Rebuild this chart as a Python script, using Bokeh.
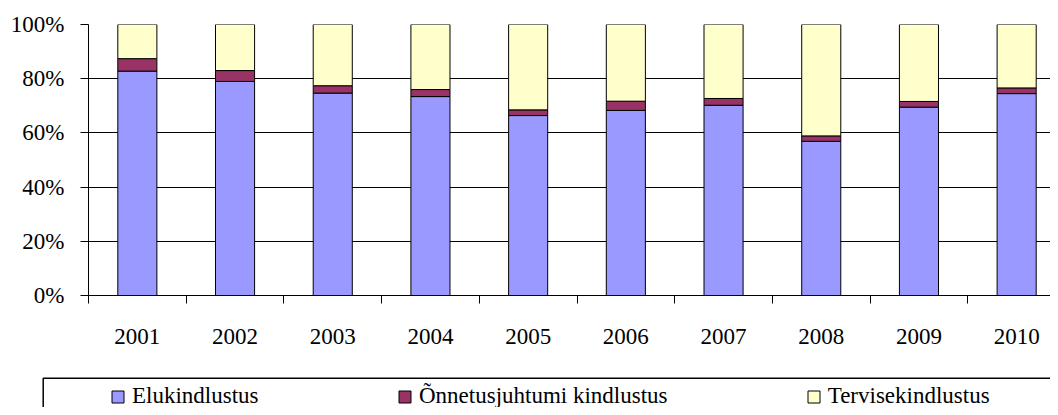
from bokeh.plotting import figure
from bokeh.layouts import column
from bokeh.models import (ColumnDataSource, Range1d, FixedTicker, Legend, LegendItem,
                          BoxAnnotation)
from bokeh.embed import file_html
from bokeh.resources import INLINE

years = ["2001", "2002", "2003", "2004", "2005", "2006", "2007", "2008", "2009", "2010"]
year_pos = [2001, 2002, 2003, 2004, 2005, 2006, 2007, 2008, 2009, 2010]
elukindlustus = [82.8, 79.0, 74.7, 73.4, 66.4, 68.3, 70.2, 56.9, 69.5, 74.5]
onnetus = [4.6, 4.0, 2.7, 2.6, 2.1, 3.4, 2.5, 2.0, 2.1, 2.1]
tervis = [12.6, 17.0, 22.6, 24.0, 31.5, 28.3, 27.3, 41.1, 28.4, 23.4]
series_names = ["Elukindlustus", "Õnnetusjuhtumi kindlustus", "Tervisekindlustus"]
series_cols = ["elu", "onn", "terv"]
colors = ["#9999FF", "#993366", "#FFFFCC"]
y_ticks = [0, 20, 40, 60, 80, 100]
y_tick_labels = ["0%", "20%", "40%", "60%", "80%", "100%"]

FONT = "Liberation Serif"
FS = "23px"
W = 1050

src = ColumnDataSource(dict(x=year_pos, elu=elukindlustus, onn=onnetus, terv=tervis))

p = figure(width=W, height=370, output_backend="svg", toolbar_location=None,
           x_range=Range1d(2000.5, 2000.5 + (W - 88) / 97.7), y_range=Range1d(0, 100),
           min_border_left=88, min_border_right=0, min_border_top=24, min_border_bottom=75)
p.outline_line_color = None
p.background_fill_color = "white"
p.border_fill_color = "white"

rs = p.vbar_stack(series_cols, x="x", width=0.4, source=src,
                  fill_color=colors, line_color="black", line_width=1)

# grid
p.xgrid.visible = False
p.ygrid.ticker = FixedTicker(ticks=y_ticks)
p.ygrid.grid_line_color = "black"
p.ygrid.grid_line_width = 1

# y axis
p.yaxis.ticker = FixedTicker(ticks=y_ticks)
p.yaxis.major_label_overrides = {t: l for t, l in zip(y_ticks, y_tick_labels)}
p.yaxis.major_tick_out = 8
p.yaxis.major_tick_in = 0
p.yaxis.minor_tick_out = 0
p.yaxis.minor_tick_in = 0
p.yaxis.major_label_standoff = 16
p.yaxis.axis_line_color = "black"
p.yaxis.major_tick_line_color = "black"
p.yaxis.major_label_text_font = FONT
p.yaxis.major_label_text_font_size = FS
p.yaxis.major_label_text_color = "black"

# x axis: labels at centers, tick marks at category boundaries
bounds = [y - 0.5 for y in year_pos] + [year_pos[-1] + 0.5]
p.xaxis.ticker = FixedTicker(ticks=year_pos, minor_ticks=bounds)
p.xaxis.major_label_overrides = {t: l for t, l in zip(year_pos, years)}
p.xaxis.major_tick_out = 0
p.xaxis.major_tick_in = 0
p.xaxis.minor_tick_out = 8
p.xaxis.minor_tick_in = 0
p.xaxis.minor_tick_line_color = "black"
p.xaxis.axis_line_color = "black"
p.xaxis.major_label_standoff = 25
p.xaxis.major_label_text_font = FONT
p.xaxis.major_label_text_font_size = FS
p.xaxis.major_label_text_color = "black"

# legend strip (separate figure, pixel-unit ranges)
LH = 37
p2 = figure(width=W, height=LH, output_backend="svg", toolbar_location=None,
            x_range=Range1d(0, W), y_range=Range1d(0, LH),
            x_axis_type=None, y_axis_type=None,
            min_border_left=0, min_border_right=0, min_border_top=0, min_border_bottom=0)
p2.outline_line_color = None
p2.xgrid.visible = False
p2.ygrid.visible = False
p2.background_fill_color = "white"
p2.border_fill_color = "white"
for fig in (p, p2):
    try:
        fig.frame_align = False
    except Exception:
        pass

box = BoxAnnotation(left=42.7, right=W + 200, top=LH - 7.7, bottom=-50,
                    fill_alpha=0, line_color="black", line_alpha=1, line_width=1.5)
p2.add_layout(box)

leg_x = [110, 397, 805.7]
for name, col, c, lx in zip(series_names, series_cols, colors, leg_x):
    r = p2.vbar(x="x", top=col, width=0.4, source=src, fill_color=c,
                line_color="black", line_width=1, visible=False)
    lg = Legend(items=[LegendItem(label=name, renderers=[r])], location=(lx, -2),
                orientation="horizontal", padding=0, margin=0, spacing=0,
                glyph_width=15, glyph_height=15, label_standoff=7,
                border_line_color=None, background_fill_alpha=0,
                inactive_fill_alpha=0,
                label_text_font=FONT, label_text_font_size=FS, label_text_color="black")
    p2.add_layout(lg)

layout = column(p, p2, spacing=0)
open("out.html", "w").write(file_html(layout, INLINE))
